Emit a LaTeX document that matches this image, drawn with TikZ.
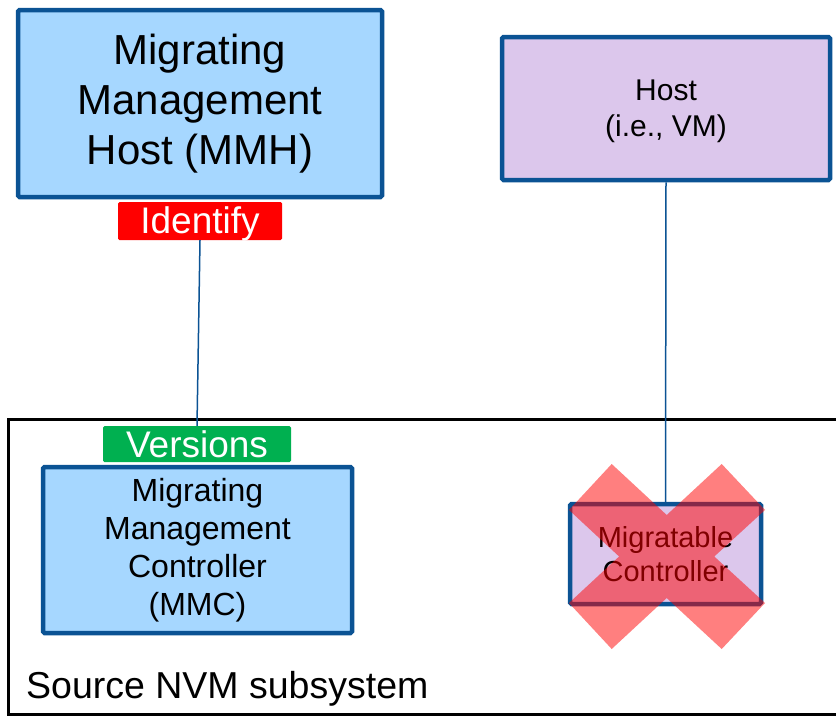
\documentclass[tikz,border=0pt]{standalone}
\usepackage{fontspec}
\setmainfont{Liberation Sans}
\definecolor{boxblue}{HTML}{A6D7FF}
\definecolor{boxpurple}{HTML}{DCC7EC}
\definecolor{edgeblue}{HTML}{0B5394}
\definecolor{tagred}{HTML}{FF0000}
\definecolor{taggreen}{HTML}{00B050}
\tikzset{
  bluebox/.style={draw=edgeblue, line width=4.5pt, fill=boxblue, rounded corners=1.5pt,
    align=center, inner sep=0pt, text=black},
  purplebox/.style={draw=edgeblue, line width=4.5pt, fill=boxpurple, rounded corners=1.5pt,
    align=center, inner sep=0pt, text=black},
  tagbox/.style={rounded corners=1.5pt, inner sep=0pt, text=white},
  link/.style={draw=edgeblue, line width=1.5pt},
  container/.style={draw=black, line width=3pt},
  crossmark/.style={fill=red, fill opacity=0.5, draw=none}
}
\begin{document}
\begin{tikzpicture}[x=1pt,y=-1pt]
\useasboundingbox (0,0) rectangle (836,720);
% container
\draw[container] (836,419.5) -- (8.5,419.5) -- (8.5,714.5) -- (836,714.5);
\node[anchor=base west, inner sep=0pt, font=\fontsize{37.5}{44}\selectfont] (src) at (26,698) {Source NVM subsystem};
% tags
\node[tagbox, fill=tagred, minimum width=164pt, minimum height=38pt, text height=27pt, text depth=3pt, font=\fontsize{37}{44}\selectfont] (ident) at (200,221) {Identify};
\node[tagbox, fill=taggreen, minimum width=188pt, minimum height=36pt, font=\fontsize{37}{44}\selectfont] (vers) at (197,444) {Versions};
% connectors
\draw[link] (ident.south) -- (vers.north);
\node[purplebox, minimum width=328pt, minimum height=143pt, text depth=-1.5pt, font=\fontsize{30}{36}\selectfont] (host) at (666,108.5) {Host\\(i.e., VM)};
\node[purplebox, minimum width=191pt, minimum height=100pt, font=\fontsize{29}{34.5}\selectfont] (mc) at (665.5,554) {Migratable\\Controller};
\draw[link] (host.south) -- (mc.north);
% main boxes
\node[bluebox, minimum width=364pt, minimum height=187pt, font=\fontsize{42}{50}\selectfont] (mmh) at (200,103.5) {Migrating\\Management\\Host (MMH)};
\node[bluebox, minimum width=309pt, minimum height=166pt, font=\fontsize{32}{38}\selectfont] (mmc) at (197.5,550) {Migrating\\Management\\Controller\\(MMC)};
% red cross
\fill[crossmark] (611.7,464) -- (666.7,515) -- (721.7,464) -- (765,510) -- (714.3,556.5)
  -- (765,603) -- (721.7,649) -- (666.7,598) -- (611.7,649) -- (569,603)
  -- (619.1,556.5) -- (569,510) -- cycle;
\end{tikzpicture}
\end{document}
